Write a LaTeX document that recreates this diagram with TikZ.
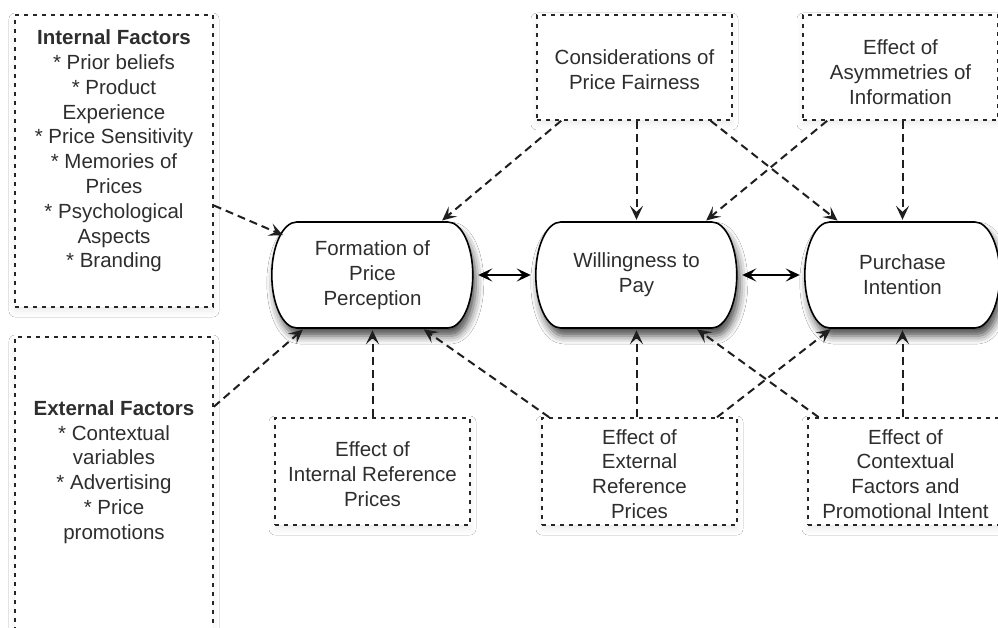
\documentclass[tikz,border=0pt]{standalone}
\usepackage{fontspec}
\setmainfont{Liberation Sans}
\usetikzlibrary{shapes.misc,arrows.meta,shadows.blur,backgrounds}
\begin{document}
\begin{tikzpicture}[x=1pt,y=-1pt,
  txt/.style={font=\fontsize{20.5}{24.8}\selectfont, text=black!82, align=center, inner sep=0pt},
  factorbox/.style={draw=black!85, line width=1.6pt, dash pattern=on 4pt off 5pt,
    fill=white, inner sep=0pt,
    blur shadow={shadow xshift=0pt, shadow yshift=-4pt, shadow blur radius=6pt, shadow opacity=8}},
  % stage nodes carry the text and the anchors; the outline is drawn below them
  stage/.style={rounded rectangle, rounded rectangle arc length=110,
    inner sep=0pt, minimum height=106pt, txt},
  outline/.style={draw=black, line width=1.6pt, fill=white,
    blur shadow={shadow xshift=3pt, shadow yshift=-8pt, shadow blur radius=8pt, shadow opacity=70}},
  tip/.tip={Stealth[length=14pt,width=13pt,inset=6pt]},
  link/.style={draw=black!88, line width=2pt, dash pattern=on 8pt off 5pt,
    -tip, shorten >=2pt},
  mutual/.style={draw=black, line width=1.8pt, tip-tip, shorten >=5pt, shorten <=5pt}
]
\useasboundingbox (0,0) rectangle (998,628);

% influencing factors (dotted boxes)
\node[factorbox, minimum width=198pt, minimum height=292pt] (intf) at (114,161) {};
\node[factorbox, minimum width=198pt, minimum height=313pt] (extf) at (114,493.5) {};
\node[factorbox, minimum width=195pt, minimum height=105pt] (cons) at (634.5,67.5) {};
\node[factorbox, minimum width=195pt, minimum height=105pt] (asym) at (900.5,67.5) {};
\node[factorbox, minimum width=195pt, minimum height=107pt] (iref) at (372.5,471.5) {};
\node[factorbox, minimum width=195pt, minimum height=107pt] (eref) at (639.5,471.5) {};
\node[factorbox, minimum width=195pt, minimum height=107pt] (cont) at (905.5,471.5) {};

\node[txt] (intftext) at (114,151) {\textbf{Internal Factors}\\* Prior beliefs\\* Product\\Experience\\* Price Sensitivity\\* Memories of\\Prices\\* Psychological\\Aspects\\* Branding};
\node[txt] (extftext) at (114,472) {\textbf{External Factors}\\* Contextual\\variables\\* Advertising\\* Price\\promotions};
\node[txt] (constext) at (634.5,70) {Considerations of\\Price Fairness};
\node[txt] (asymtext) at (900.5,72) {Effect of\\Asymmetries of\\Information};
\node[txt] (ireftext) at (372.5,474) {Effect of\\Internal Reference\\Prices};
\node[txt] (ereftext) at (639.5,474) {Effect of\\External\\Reference\\Prices};
\node[txt] (conttext) at (905.5,474) {Effect of\\Contextual\\Factors and\\Promotional Intent};

% stages
\node[stage, minimum width=201pt] (f) at (372.5,275) {Formation of\\Price\\Perception};
\node[stage, minimum width=201pt] (w) at (636.5,275) {Willingness to\\Pay};
\node[stage, minimum width=195pt] (p) at (902.5,275) {Purchase\\Intention};

% stage outlines: straight top and bottom, half-elliptic ends
\begin{scope}[on background layer]
\fill[white] (0,0) rectangle (998,628);
\foreach \s/\len in {f/151, w/151, p/145}{
  \draw[outline] (\s.west)
    arc[start angle=180, end angle=90, x radius=25pt, y radius=53pt]
    -- ++(\len,0)
    arc[start angle=90, end angle=-90, x radius=25pt, y radius=53pt]
    -- ++(-\len,0)
    arc[start angle=270, end angle=180, x radius=25pt, y radius=53pt] -- cycle;
}
\end{scope}

% mutual relations between stages
\draw[mutual] (f.east) -- (w.west);
\draw[mutual] (w.east) -- (p.west);

% influences
\draw[link] (intf.-24) -- (f.156);
\draw[link] (extf.41) -- (f.218);
\draw[link] (cons.216) -- (f.38);
\draw[link] (w.north |- cons.south) -- (w.north);
\draw[link] (cons.-35) -- (p.140);
\draw[link] (asym.216) -- (w.38);
\draw[link] (p.north |- asym.south) -- (p.north);
\draw[link] (iref.north) -- (f.south);
\draw[link] (eref.149) -- (f.-47);
\draw[link] (w.south |- eref.north) -- (w.south);
\draw[link] (eref.35) -- (p.217);
\draw[link] (cont.148) -- (w.-42);
\draw[link] (p.south |- cont.north) -- (p.south);
\end{tikzpicture}
\end{document}
